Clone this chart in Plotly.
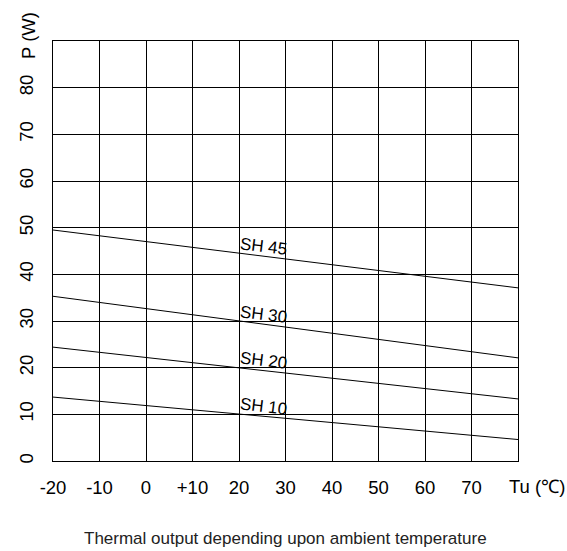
import plotly.graph_objects as go

temps = [-20, 80]
series_names = ["SH 45", "SH 30", "SH 20", "SH 10"]
sh45 = [49.5, 37.1]
sh30 = [35.3, 22.1]
sh20 = [24.4, 13.3]
sh10 = [13.7, 4.6]
x_ticks = [-20, -10, 0, 10, 20, 30, 40, 50, 60, 70, 80]
x_labels = ["-20", "-10", "0", "+10", "20", "30", "40", "50", "60", "70", ""]
y_ticks = [0, 10, 20, 30, 40, 50, 60, 70, 80, 90]
y_labels = ["0", "10", "20", "30", "40", "50", "60", "70", "80", ""]
label_x = 25.2

FONT = "Liberation Sans, Arial, sans-serif"

fig = go.Figure()
all_vals = [sh45, sh30, sh20, sh10]
for name, vals in zip(series_names, all_vals):
    fig.add_trace(go.Scatter(x=temps, y=vals, mode="lines", name=name,
                             line=dict(color="black", width=1), showlegend=False,
                             hoverinfo="skip"))

for name, vals in zip(series_names, all_vals):
    ly = vals[0] + (vals[1] - vals[0]) * (label_x - temps[0]) / (temps[1] - temps[0])
    fig.add_annotation(x=label_x, y=ly, text=name, showarrow=False,
                       xanchor="center", yanchor="middle", textangle=7,
                       font=dict(family=FONT, size=17, color="black"),
                       yshift=10)

fig.add_annotation(xref="paper", yref="paper", x=1.04, y=0, yshift=-25,
                   text="Tu (℃)", showarrow=False, xanchor="center", yanchor="middle",
                   font=dict(family=FONT, size=18.5, color="black"))
fig.add_annotation(xref="paper", yref="paper", x=0, xshift=-25, y=1, yshift=5,
                   text="P (W)", showarrow=False, textangle=-90, xanchor="center",
                   yanchor="middle", font=dict(family=FONT, size=18.5, color="black"))
fig.add_annotation(xref="paper", yref="paper", x=0.5, y=0, yshift=-77,
                   text="Thermal output depending upon ambient temperature",
                   showarrow=False, xanchor="center", yanchor="middle",
                   font=dict(family=FONT, size=17, color="#222222"))

fig.update_xaxes(range=[-20, 80], tickvals=x_ticks, ticktext=x_labels,
                 showgrid=True, gridcolor="black", gridwidth=1, zeroline=False,
                 showline=True, linecolor="black", linewidth=1, mirror=True,
                 ticks="", ticklabelstandoff=10,
                 tickfont=dict(family=FONT, size=18.5, color="black"))
fig.update_yaxes(range=[0, 90], tickvals=y_ticks, ticktext=y_labels,
                 showgrid=True, gridcolor="black", gridwidth=1, zeroline=False,
                 showline=True, linecolor="black", linewidth=1, mirror=True,
                 ticks="", tickangle=-90, ticklabelstandoff=12,
                 tickfont=dict(family=FONT, size=18.5, color="black"))

fig.update_layout(width=567, height=551, margin=dict(l=53, r=49, t=41, b=90),
                  plot_bgcolor="white", paper_bgcolor="white")
fig.write_html("out.html")
